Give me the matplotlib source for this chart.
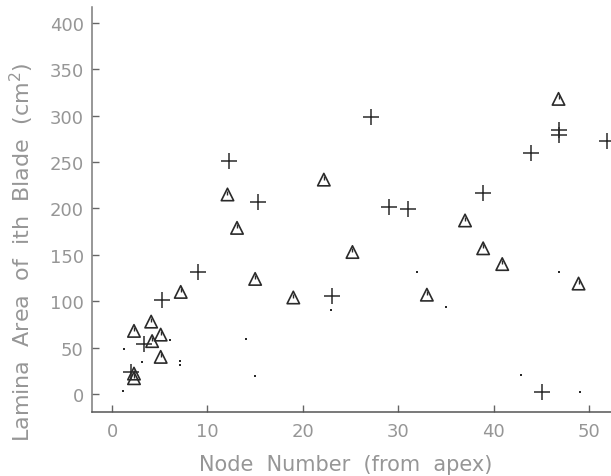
import numpy as np
import matplotlib.pyplot as plt

# lamina area of the i-th blade against node number (counted from apex)
plus_x = [2.0, 3.3, 5.2, 9.0, 12.3, 15.3, 23.1, 27.1, 29.0, 31.0, 38.9, 43.9, 46.8, 46.8, 51.9, 45.1]
plus_y = [24, 54, 101, 131, 251, 207, 106, 298, 202, 199, 217, 260, 285, 279, 273, 2]

tri_x = [2.3, 2.3, 2.3, 4.1, 4.2, 5.1, 5.1, 7.2, 12.1, 13.1, 15.0, 19.0, 22.2, 25.2,
         33.0, 37.0, 38.9, 40.9, 46.8, 48.9]
tri_y = [68, 22, 17, 78, 57, 64, 40, 110, 215, 179, 124, 104, 231, 153,
         107, 187, 157, 140, 318, 119]

dot_x = [1.3, 1.2, 3.1, 7.1, 7.1, 6.1, 14.0, 15.0, 23.0, 32.0, 35.0, 46.9, 42.9, 49.1]
dot_y = [48, 3, 35, 31, 36, 58, 59, 19, 91, 131, 94, 131, 21, 2]

xticks = [0, 10, 20, 30, 40, 50]
yticks = [0, 50, 100, 150, 200, 250, 300, 350, 400]

grey = '#969696'
ink = '#2a2a2a'

fig = plt.figure(figsize=(6.11, 4.77), dpi=100)
ax = fig.add_axes([92 / 611, 64 / 477, 519 / 611, 405 / 477])

ax.scatter(plus_x, plus_y, marker='+', s=130, color=ink, linewidths=1.1, zorder=3)
ax.scatter(tri_x, tri_y, marker='^', s=80, facecolors='none', edgecolors=ink,
           linewidths=1.2, zorder=3)
# the little mark printed inside each triangle
ax.scatter(np.array(tri_x), np.array(tri_y) + 2, marker='|', s=8, color=ink,
           linewidths=1.0, zorder=4)
ax.scatter(dot_x, dot_y, marker='s', s=2, color=ink, linewidths=0, zorder=3)

ax.set_xlim(-2.1, 52.3)
ax.set_ylim(-19.4, 417)

ax.set_xticks(xticks)
ax.set_yticks(yticks)
ax.tick_params(axis='both', direction='in', length=5, width=1, color='#666666',
               labelcolor=grey, labelsize=13)
ax.tick_params(axis='x', pad=7)
ax.tick_params(axis='y', pad=6)

for side in ['top', 'right']:
    ax.spines[side].set_visible(False)
ax.spines['left'].set_color('#7a7a7a')
ax.spines['bottom'].set_color('#555555')
ax.spines['left'].set_linewidth(1.1)
ax.spines['bottom'].set_linewidth(1.1)

fig.text(346 / 611, 1 - 465 / 477, 'Node  Number  (from  apex)', color=grey,
         fontsize=15, ha='center', va='center')
fig.text(22 / 611, 1 - 252 / 477, 'Lamina  Area  of  ith  Blade  (cm$^2$)',
         color=grey, fontsize=16, rotation=90, ha='center', va='center')

fig.savefig('out.png', dpi=100)
